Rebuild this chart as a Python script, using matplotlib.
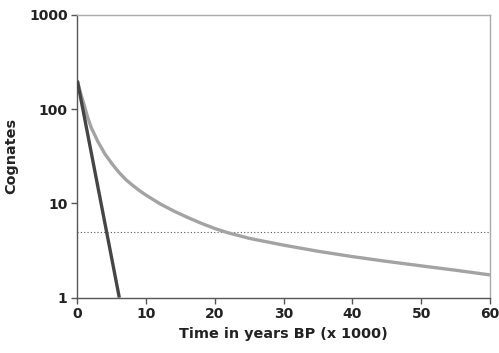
import matplotlib
matplotlib.use('Agg')
import matplotlib.pyplot as plt
from matplotlib.ticker import FixedLocator, NullLocator

# gray curve: cognates retained over time
years = [0, 0.5, 1, 1.5, 2, 3, 4, 5, 6, 7, 8, 9, 10, 12, 14, 16, 18, 20, 22,
         25, 30, 35, 40, 45, 50, 55, 60]
cognates = [200, 145, 110, 82, 64, 45, 33.5, 26.5, 21.5, 18, 15.6, 13.7, 12.2,
            9.9, 8.3, 7.1, 6.15, 5.4, 4.85, 4.25, 3.6, 3.1, 2.72, 2.42, 2.17,
            1.95, 1.74]

# dark line: steep exponential decay
years_fast = [0, 6.1]
cognates_fast = [200, 1]

threshold = 5
yticks = [1, 10, 100, 1000]
xticks = [0, 10, 20, 30, 40, 50, 60]

fig = plt.figure(figsize=(4.99, 3.53), dpi=100)
ax = fig.add_axes([0.155, 0.157, 0.827, 0.801])

ax.plot(years, cognates, color='#a3a3a3', lw=2.4, solid_capstyle='butt',
        solid_joinstyle='round', zorder=3)
ax.plot(years_fast, cognates_fast, color='#454545', lw=2.4, solid_capstyle='butt', zorder=4)
ax.plot([0, 60], [threshold, threshold], color='#555555', lw=0.8, ls=(0, (1, 2)), zorder=2)

ax.set_yscale('log')
ax.set_xlim(0, 60)
ax.set_ylim(1, 1000)
ax.yaxis.set_major_locator(FixedLocator(yticks))
ax.yaxis.set_minor_locator(NullLocator())
ax.set_yticklabels([str(v) for v in yticks])
ax.set_xticks(xticks)
ax.set_xticklabels([str(v) for v in xticks])

for lab in ax.get_xticklabels() + ax.get_yticklabels():
    lab.set_fontweight('bold')
    lab.set_fontsize(10)
    lab.set_color('#222222')

ax.tick_params(direction='out', length=4, width=1, color='#555555', pad=3)
ax.spines['left'].set_color('#555555')
ax.spines['bottom'].set_color('#555555')
ax.spines['top'].set_color('#aaaaaa')
ax.spines['right'].set_color('#aaaaaa')
for s in ax.spines.values():
    s.set_linewidth(1)

ax.set_xlabel('Time in years BP (x 1000)', fontsize=10.4, fontweight='bold', color='#222222', labelpad=4)
ax.set_ylabel('Cognates', fontsize=10.4, fontweight='bold', color='#222222', labelpad=8)

fig.savefig('out.png', dpi=100)
